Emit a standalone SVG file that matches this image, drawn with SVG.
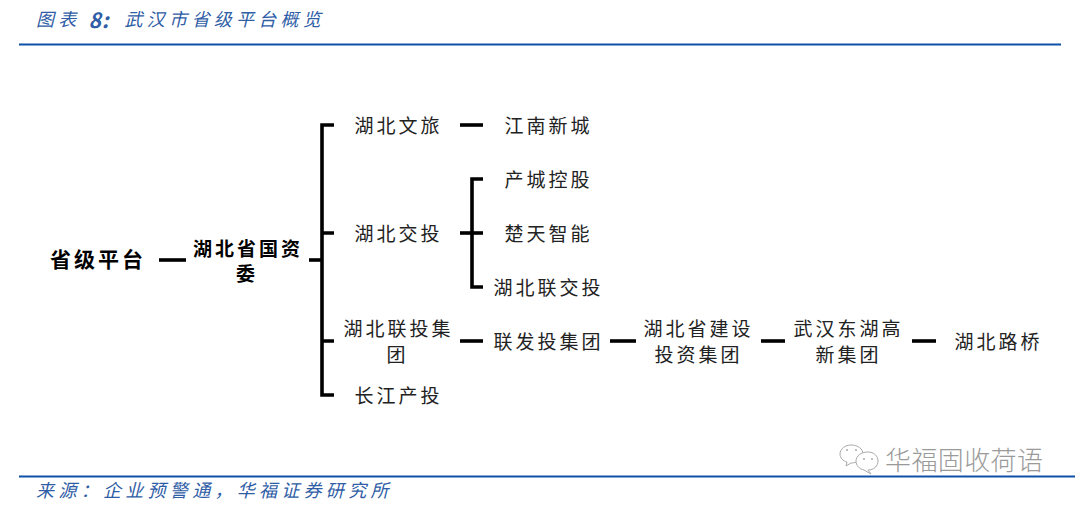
<svg xmlns="http://www.w3.org/2000/svg" width="1080" height="507" viewBox="0 0 1080 507">
<style>
text{font-family:"Noto Sans CJK SC","Noto Sans CJK JP",sans-serif;font-size:19px;fill:#222;text-anchor:middle;letter-spacing:3px;dominant-baseline:central}
.b{font-weight:700;fill:#000}
.p{font-size:21px;letter-spacing:3px}
.h{font-size:18px;fill:#2f5da6;text-anchor:start;letter-spacing:4.300px}
.w{font-size:26px;fill:#9a9a9a;text-anchor:start;letter-spacing:.4px;font-weight:300}
.c path{fill:none;stroke:#000;stroke-width:3.6}
.r{stroke:#0f4fa8;stroke-width:2;fill:none}
</style>
<rect width="1080" height="507" fill="#fff"/>
<g id="header">
<text class="h" x="38" y="18" transform="skewX(-14) translate(4.500 0)">图表 <tspan font-weight="700" font-size="21" letter-spacing="1">8:</tspan><tspan dx="6"> 武汉市省级平台概览</tspan></text>
<path class="r" d="M19 44.500H1061"/>
</g>
<g id="connectors" class="c">
<path d="M159 260H186"/>
<path d="M309 260H322"/>
<path d="M334 125H322V395H334M322 233H334M322 341H334"/>
<path d="M460 125H483"/>
<path d="M460 233H483"/>
<path d="M483 179H472V287H483"/>
<path d="M460 341H483"/>
<path d="M610 341H636"/>
<path d="M761 341H785"/>
<path d="M912 341H936"/>
</g>
<g id="n-province"><text class="b p" x="98" y="258">省级平台</text></g>
<g id="n-sasac"><text class="b" x="248" y="247">湖北省国资</text><text class="b" x="247" y="272">委</text></g>
<g id="n-wenlv"><text x="398.500" y="124">湖北文旅</text></g>
<g id="n-jiaotou"><text x="398.500" y="232">湖北交投</text></g>
<g id="n-liantou"><text x="398.500" y="327">湖北联投集</text><text x="397.500" y="353">团</text></g>
<g id="n-changjiang"><text x="398.500" y="394">长江产投</text></g>
<g id="n-jiangnan"><text x="548.500" y="124">江南新城</text></g>
<g id="n-chancheng"><text x="548.500" y="178">产城控股</text></g>
<g id="n-chutian"><text x="548.500" y="232">楚天智能</text></g>
<g id="n-lianjiaotou"><text x="548.500" y="286">湖北联交投</text></g>
<g id="n-lianfa"><text x="548.500" y="340">联发投集团</text></g>
<g id="n-jianshe"><text x="698.500" y="327">湖北省建设</text><text x="698.500" y="353">投资集团</text></g>
<g id="n-donghu"><text x="848.500" y="327">武汉东湖高</text><text x="848.500" y="353">新集团</text></g>
<g id="n-luqiao"><text x="998.500" y="340">湖北路桥</text></g>
<g id="footer">
<path class="r" d="M19 476.500H1075"/>
<text class="h" x="38" y="489" transform="skewX(-14) translate(122 0)">来源：企业预警通，华福证券研究所</text>
</g>
<g id="watermark">
<g fill="#fff" stroke="#aaa" stroke-width="1">
<path d="M851 445c7 0 12 4 12 9s-5 9-12 9l-5 3 1-4c-4-1-7-4-7-8 0-5 5-9 11-9z"/>
<path d="M868 452c6 0 10 4 10 9s-4 9-10 9l3 4-7-4c-5-1-8-5-8-9 0-5 5-9 12-9z"/>
</g>
<g fill="#aaa"><circle cx="847" cy="450" r="1"/><circle cx="856" cy="450" r="1"/><circle cx="864" cy="459" r="1"/><circle cx="872" cy="459" r="1"/></g>
<text class="w" x="885" y="458">华福固收荷语</text>
</g>
</svg>
